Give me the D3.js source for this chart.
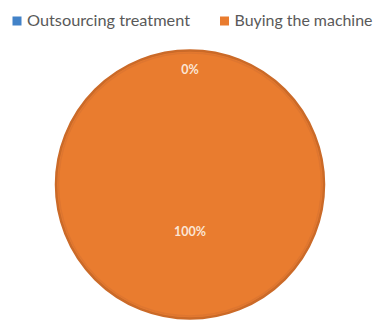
<!DOCTYPE html>
<html>
<head>
<meta charset="utf-8">
<script src="https://cdn.jsdelivr.net/npm/d3@7"></script>
<style>
  html, body { margin: 0; padding: 0; background: #ffffff; }
  svg { display: block; }
</style>
</head>
<body>
<svg id="chart" width="376" height="320"></svg>
<script>
// Share of cost by option (percent)
const categories = ["Outsourcing treatment", "Buying the machine"];
const shares = [0, 100];
const colors = ["#4282C8", "#E97C2F"];

const svg = d3.select("#chart");
const W = 376, H = 320;
const cx = 190, cy = 184.5, R = 134;

const color = d3.scaleOrdinal().domain(categories).range(colors);

const pie = d3.pie().sort(null).value(d => d.value);
const rows = categories.map((c, i) => ({ name: c, value: shares[i] }));
const arcs = pie(rows);

const arc = d3.arc().innerRadius(0).outerRadius(R);

const g = svg.append("g").attr("transform", `translate(${cx},${cy})`);

// slices
g.selectAll("path.slice")
  .data(arcs)
  .join("path")
  .attr("class", "slice")
  .attr("d", arc)
  .attr("fill", d => color(d.data.name))
  .attr("stroke", d => d.value > 0 ? "#CB6A28" : "none")
  .attr("stroke-width", 2.5);

// soft inner rim
g.append("circle")
  .attr("r", R - 2.5)
  .attr("fill", "none")
  .attr("stroke", "#DE7630")
  .attr("stroke-width", 1.5);

// data labels: empty slices sit near the rim, others nearer the centre
const labelArc = d => {
  const r = d.endAngle - d.startAngle === 0 ? R * 0.86 : R * 0.35;
  return d3.arc().innerRadius(r).outerRadius(r).centroid(d);
};
const fmt = d3.format(".0%");

g.selectAll("text.label")
  .data(arcs)
  .join("text")
  .attr("class", "label")
  .attr("transform", d => `translate(${labelArc(d)})`)
  .attr("text-anchor", "middle")
  .attr("dominant-baseline", "central")
  .attr("font-family", "Lato, 'Open Sans', sans-serif")
  .attr("font-weight", "bold")
  .attr("font-size", 12.5)
  .attr("fill", "#FBE5D4")
  .text(d => fmt(d.data.value / d3.sum(shares)));

// legend
const legendX = [12.5, 220];
const legendWidths = [163, 138];
const legend = svg.append("g");
const items = legend.selectAll("g.item")
  .data(categories)
  .join("g")
  .attr("class", "item")
  .attr("transform", (d, i) => `translate(${legendX[i]},16.5)`);

items.append("rect")
  .attr("width", 9)
  .attr("height", 9)
  .attr("fill", d => color(d));

items.append("text")
  .attr("x", 14.5)
  .attr("y", 9.5)
  .attr("font-family", "Lato, 'Open Sans', sans-serif")
  .attr("font-size", 16)
  .attr("fill", "#595959")
  .attr("textLength", (d, i) => legendWidths[i])
  .attr("lengthAdjust", "spacingAndGlyphs")
  .text(d => d);
</script>
</body>
</html>
